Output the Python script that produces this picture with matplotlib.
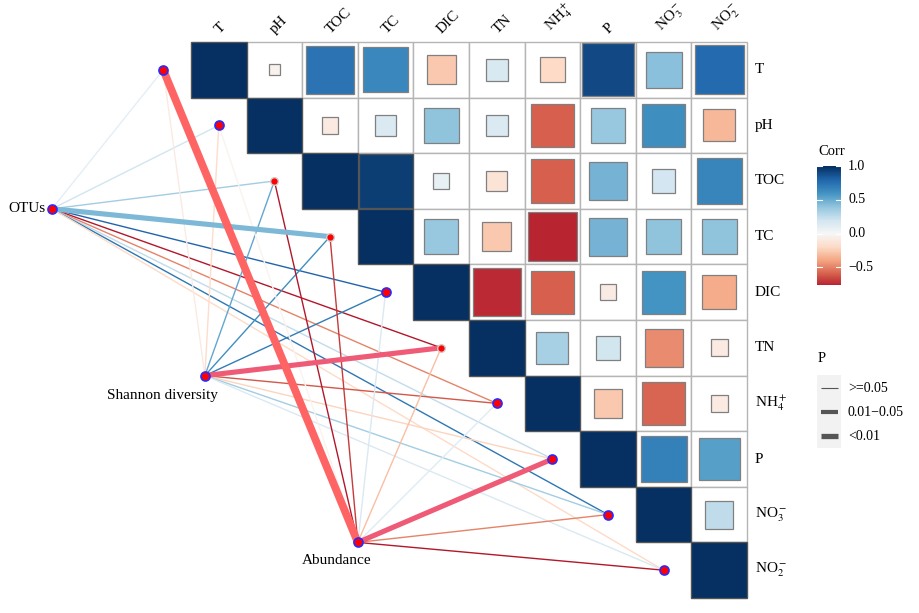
import numpy as np
import matplotlib
matplotlib.use('Agg')
import matplotlib.pyplot as plt
from matplotlib.patches import Rectangle
from matplotlib.lines import Line2D

plt.rcParams['font.family'] = ['Liberation Serif', 'DejaVu Serif']
plt.rcParams['mathtext.fontset'] = 'stix'

# environmental variables (heatmap rows / cols)
env = ['T', 'pH', 'TOC', 'TC', 'DIC', 'TN', r'NH$_4^+$', 'P', r'NO$_3^-$', r'NO$_2^-$']

# upper triangle of the correlation matrix, row by row, diagonal left out
corr_rows = [
    [-0.04, 0.74, 0.65, -0.27, 0.16, -0.20, 0.90, 0.42, 0.78],
    [-0.09, 0.15, 0.40, 0.15, -0.60, 0.38, 0.62, -0.33],
    [0.95, 0.08, -0.14, -0.60, 0.47, 0.18, 0.66],
    [0.38, -0.27, -0.76, 0.47, 0.40, 0.40],
    [-0.75, -0.60, -0.08, 0.60, -0.37],
    [0.33, 0.19, -0.47, -0.09],
    [-0.27, -0.58, -0.09],
    [0.68, 0.55],
    [0.25],
]

# links from the three community indices to each variable
sources = ['OTUs', 'Shannon diversity', 'Abundance']
link_r = {
    'OTUs':              [0.10, 0.20, 0.35, 0.45, 0.80, -0.80, -0.50, 0.25, 0.72, -0.20],
    'Shannon diversity': [-0.08, -0.18, 0.52, 0.62, 0.70, -0.70, -0.62, -0.22, 0.35, 0.15],
    'Abundance':         [-0.70, -0.03, -0.80, -0.70, 0.15, -0.30, 0.12, -0.70, -0.50, -0.80],
}
link_p = {
    'OTUs':              ['>=0.05'] * 3 + ['0.01-0.05'] + ['>=0.05'] * 6,
    'Shannon diversity': ['>=0.05'] * 5 + ['0.01-0.05'] + ['>=0.05'] * 4,
    'Abundance':         ['<0.01'] + ['>=0.05'] * 6 + ['0.01-0.05'] + ['>=0.05'] * 2,
}

n = len(env)
corr = np.eye(n)
for i, row in enumerate(corr_rows):
    for k, v in enumerate(row):
        corr[i, i + 1 + k] = v
        corr[i + 1 + k, i] = v

cmap = plt.get_cmap('RdBu')
norm = plt.Normalize(-1, 1)

W, H = 919, 613
fig = plt.figure(figsize=(W / 100, H / 100), dpi=100)
ax = fig.add_axes([0, 0, 1, 1])
x0, y0, cs = 191, 42, 55.6  # grid origin in px and cell size
ax.set_xlim(-x0 / cs, (W - x0) / cs)
ax.set_ylim((H - y0) / cs, -y0 / cs)
ax.axis('off')

# heatmap cells
for i in range(n):
    for j in range(i, n):
        ax.add_patch(Rectangle((j, i), 1, 1, fc='white', ec='#b5b5b5', lw=1.0, zorder=1))
for i in range(n):
    for j in range(i, n):
        r = corr[i, j]
        s = np.sqrt(abs(r))
        ec = '#555555' if s > 0.97 else '#808080'
        ax.add_patch(Rectangle((j + (1 - s) / 2, i + (1 - s) / 2), s, s,
                               fc=cmap(norm(r)), ec=ec, lw=0.9, zorder=2))

# labels
for j, lab in enumerate(env):
    ax.text(j + 0.55, -0.1, lab, rotation=45, rotation_mode='anchor',
            ha='left', va='bottom', fontsize=11)
    ax.text(n + 0.14, j + 0.5, lab, ha='left', va='center', fontsize=11)

# link geometry
src_pos = {'OTUs': (-2.5, 3.0), 'Shannon diversity': (0.25, 6.0), 'Abundance': (3.0, 9.0)}
end_pos = [(i - 0.5, i + 0.5) for i in range(n)]
widths = {'>=0.05': 1.0, '0.01-0.05': 3.7, '<0.01': 5.6}
red_links = {('Abundance', 0): '#ff6464', ('Shannon diversity', 5): '#ef5a76',
             ('Abundance', 7): '#ef5a76'}

for order in ['>=0.05', '0.01-0.05', '<0.01']:
    for s in sources:
        sx, sy = src_pos[s]
        for i in range(n):
            if link_p[s][i] != order:
                continue
            col = red_links.get((s, i), cmap(norm(link_r[s][i])))
            ex, ey = end_pos[i]
            ax.plot([sx, ex], [sy, ey], color=col, lw=widths[order],
                    solid_capstyle='butt', zorder=3)

gray_edge = {2, 3, 5}
for i, (ex, ey) in enumerate(end_pos):
    if i in gray_edge:
        ax.plot(ex, ey, 'o', ms=5.5, mfc='red', mec='#cccccc', mew=1.0, zorder=5)
    else:
        ax.plot(ex, ey, 'o', ms=6.5, mfc='red', mec='#2a2aff', mew=1.2, zorder=5)
for s in sources:
    ax.plot(*src_pos[s], 'o', ms=6.5, mfc='red', mec='#2a2aff', mew=1.2, zorder=5)

ax.text(-2.62, 3.0, 'OTUs', ha='right', va='center', fontsize=11)
ax.text(-0.52, 6.36, 'Shannon diversity', ha='center', va='center', fontsize=11)
ax.text(2.62, 9.33, 'Abundance', ha='center', va='center', fontsize=11)

# colour bar
lo = corr.min()
cax = fig.add_axes([817 / W, 1 - 285 / H, 24 / W, 119 / H])
grad = np.linspace(lo, 1, 256).reshape(-1, 1)
cax.imshow(grad, cmap=cmap, norm=norm, aspect='auto', origin='lower',
           extent=[0, 1, lo, 1])
cax.set_xlim(0, 1)
cax.set_ylim(lo, 1)
cax.axis('off')
for v, lab in [(1.0, '1.0'), (0.5, '0.5'), (0.0, '0.0'), (-0.5, '\u22120.5')]:
    cax.plot([0, 0.2], [v, v], color='white', lw=0.8)
    cax.plot([0.8, 1], [v, v], color='white', lw=0.8)
    cax.text(1.3, v, lab, ha='left', va='center', fontsize=10, clip_on=False)
fig.text(818 / W, 1 - 152 / H, 'Corr', ha='left', va='center', fontsize=10.5)

# P legend
fig.text(818 / W, 1 - 358 / H, 'P', ha='left', va='center', fontsize=10.5)
fig.patches.append(Rectangle((817 / W, 1 - 448 / H), 24 / W, 73 / H,
                             transform=fig.transFigure, fc='#f2f2f2', ec='none'))
for py, lw, lab in [(388, 0.8, '>=0.05'), (412, 3.0, '0.01\u22120.05'), (436, 3.8, '<0.01')]:
    fig.lines.append(Line2D([821 / W, 838 / W], [1 - py / H, 1 - py / H],
                            transform=fig.transFigure, color='#555555', lw=lw,
                            solid_capstyle='butt'))
    fig.text(848 / W, 1 - py / H, lab, ha='left', va='center', fontsize=10)

fig.savefig('out.png', dpi=100)
